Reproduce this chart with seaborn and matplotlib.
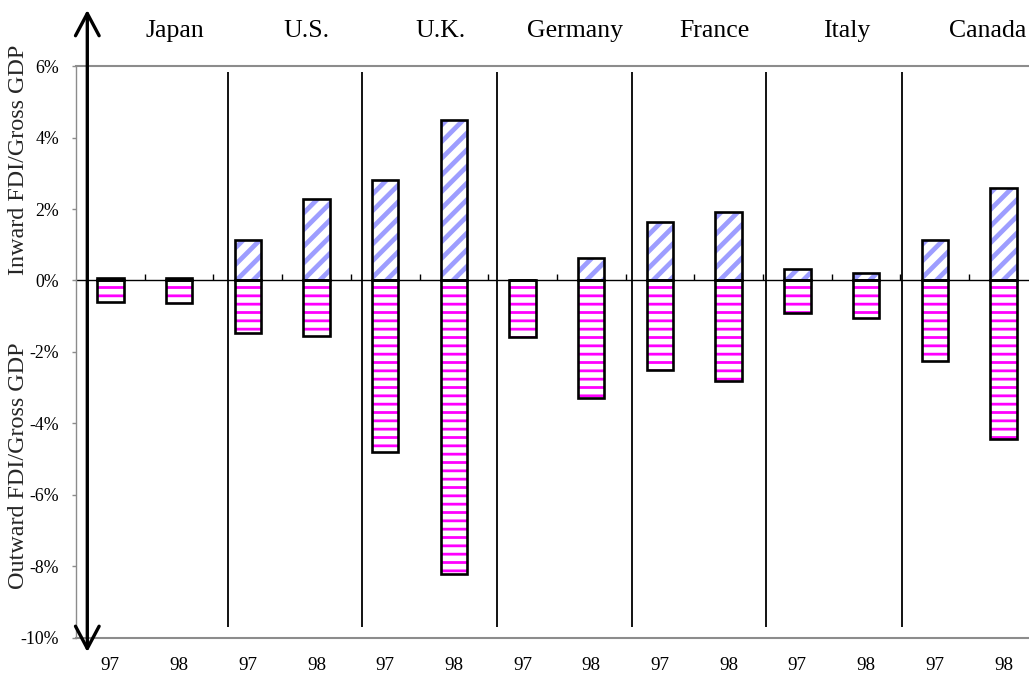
import matplotlib
matplotlib.use("Agg")
import matplotlib.pyplot as plt
import numpy as np
import pandas as pd
import seaborn as sns

# --- data -----------------------------------------------------------------
countries = ["Japan", "U.S.", "U.K.", "Germany", "France", "Italy", "Canada"]
years = ["97", "98"]
# FDI as a share of gross GDP (%), two years per country, in country order
inward = [0.08, 0.08, 1.14, 2.29, 2.81, 4.50, 0.01, 0.63, 1.63, 1.92, 0.32, 0.22, 1.14, 2.59]
outward = [-0.61, -0.63, -1.48, -1.55, -4.81, -8.20, -1.57, -3.28, -2.51, -2.81, -0.90, -1.05, -2.25, -4.42]
ytick_values = [-10, -8, -6, -4, -2, 0, 2, 4, 6]

# --- layout constants -----------------------------------------------------
BAR_W = 0.385
COUNTRY_LABEL_X = [0.94, 2.86, 4.80, 6.76, 8.79, 10.72, 12.77]
SEPARATOR_X = [1.71, 3.66, 5.63, 7.59, 9.54, 11.52]
SEPARATOR_SPAN = (-9.68, 5.83)
INWARD_BLUE = "#9d9dff"
OUTWARD_MAGENTA = "#ff00ff"
FRAME_GRAY = "#8c8c8c"

sns.set_style("white")
plt.rcParams["font.family"] = ["Liberation Serif", "DejaVu Serif"]

keys = [f"{c} {y}" for c in countries for y in years]
df = pd.DataFrame({"key": keys, "inward": inward, "outward": outward})

fig = plt.figure(figsize=(10.29, 6.77), dpi=100)
ax = fig.add_axes([0.07386, 0.05761, 0.9347, 0.8449])


def draw_bars(column, face, edge, hatch, lw, hatch_lw=2.0):
    """Draw one series through seaborn and restyle the new bar patches."""
    n0 = len(ax.patches)
    with plt.rc_context({"hatch.linewidth": hatch_lw}):
        sns.barplot(data=df, x="key", y=column, order=keys, color="white",
                    saturation=1, width=BAR_W, errorbar=None, ax=ax)
    for p in ax.patches[n0:]:
        p.set_facecolor(face)
        p.set_edgecolor(edge)
        p.set_linewidth(lw)
        if hatch:
            p.set_hatch(hatch)
            if hasattr(p, "set_hatch_linewidth"):
                p.set_hatch_linewidth(hatch_lw)


# hatched fills (edge colour carries the hatch colour, outline hidden)
draw_bars("inward", "white", INWARD_BLUE, "//", 0, hatch_lw=3.4)
draw_bars("outward", "white", OUTWARD_MAGENTA, "--", 0, hatch_lw=2.0)
# black outlines on top
draw_bars("inward", "none", "black", None, 1.9)
draw_bars("outward", "none", "black", None, 1.9)

# --- axes -----------------------------------------------------------------
ymin, ymax = -10, 6
ax.set_ylim(ymin, ymax)
ax.set_xlim(-0.5, len(keys) - 0.5)
ax.set_xlabel("")
ax.set_ylabel("")

ax.set_yticks(ytick_values)
ax.set_yticklabels([f"{v}%" for v in ytick_values])
ax.tick_params(axis="y", left=True, length=3, width=1, color=FRAME_GRAY,
               pad=9, labelsize=12.8, labelcolor="black")

ax.set_xticks(range(len(keys)))
ax.set_xticklabels([y for _ in countries for y in years])
ax.tick_params(axis="x", bottom=True, length=0, pad=14, labelsize=13.8,
               labelcolor="black")

for side in ["top", "bottom"]:
    ax.spines[side].set_color(FRAME_GRAY)
    ax.spines[side].set_linewidth(1.5)
ax.spines["left"].set_color(FRAME_GRAY)
ax.spines["left"].set_linewidth(1.0)
ax.spines["right"].set_visible(False)

# zero line with small boundary ticks between the bars
zero_frac = (0 - ymin) / (ymax - ymin)
zero_axis = ax.secondary_xaxis(zero_frac)
zero_axis.set_xticks(np.arange(len(keys)) + 0.5)
zero_axis.tick_params(axis="x", direction="out", length=4, width=1,
                      color="black", labeltop=False, labelbottom=False)
zero_axis.set_xticklabels([])
for s in zero_axis.spines.values():
    s.set_color("black")
    s.set_linewidth(1.0)

# country separators
ax.vlines(SEPARATOR_X, SEPARATOR_SPAN[0], SEPARATOR_SPAN[1],
          color="black", linewidth=1.3, zorder=3)

# country names above the plot
for name, xpos in zip(countries, COUNTRY_LABEL_X):
    ax.text(xpos, 1.0507, name, transform=ax.get_xaxis_transform(),
            ha="center", va="baseline", fontsize=18.5, color="black")

# double-headed arrow marking inward (up) and outward (down)
ax.annotate("", xy=(0.01175, 1.098), xytext=(0.01175, -0.0245),
            xycoords="axes fraction", textcoords="axes fraction",
            annotation_clip=False,
            arrowprops=dict(arrowstyle="<->,head_length=1.6,head_width=0.85",
                            lw=2.4, color="black", shrinkA=0, shrinkB=0))

# axis titles for the two halves
fig.text(19 / 1029, 1 - 160 / 677, "Inward FDI/Gross GDP", rotation=90,
         ha="center", va="center", fontsize=17.4)
fig.text(19 / 1029, 1 - 466 / 677, "Outward FDI/Gross GDP", rotation=90,
         ha="center", va="center", fontsize=17.4)

fig.savefig("out.png", dpi=100)
